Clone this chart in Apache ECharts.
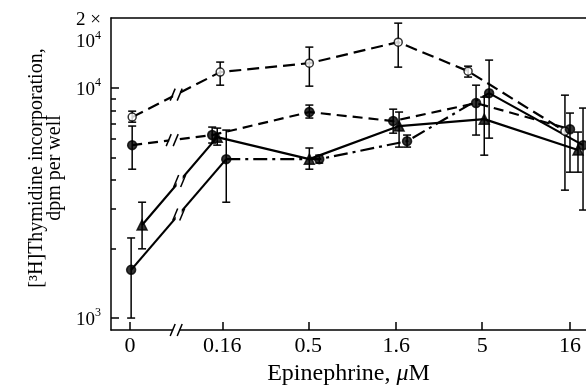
<!DOCTYPE html>
<html>
<head>
<meta charset="utf-8">
<script src="https://cdn.jsdelivr.net/npm/echarts@6/dist/echarts.min.js"></script>
<style>
html, body { margin: 0; padding: 0; background: #fff; }
#chart { width: 586px; height: 387px; }
</style>
</head>
<body>
<div id="chart"></div>
<script>
// epinephrine doses, uM (0 is drawn left of the axis break)
var doses = [0, 0.16, 0.5, 1.6, 5, 16];
var doseLabels = ['0', '0.16', '0.5', '1.6', '5', '16'];

// small horizontal offsets of the points, in decades, as plotted
var offA = [0.012, -0.012, 0.006, 0.012, -0.081, -0.029];
var offB = [0.012, -0.058, 0.006, -0.017, -0.035, 0];
var offC = [0.069, -0.029, 0.006, 0.017, 0.012, 0.046];
var offD = [0.006, 0.023, 0.063, 0.063, 0.040, 0.075];

// dpm per well, mean and error bar ends
var meanA = [7480, 11740, 12840, 15850, 11850, 6500];
var lowA  = [7110, 10300, 10200, 12340, 11170, 3600];
var highA = [7940, 12980, 15080, 19170, 12460, 9320];

var meanB = [5650, 6250, 7870, 7190, 8610, 6630];
var lowB  = [4440, 5770, 7410, 6370, 6250, 4310];
var highB = [6840, 6770, 8440, 8100, 10300, 7790];

var meanC = [2540, 6120, 4910, 6840, 7330, 5380];
var lowC  = [2000, 5650, 4440, 5540, 5110, 4310];
var highC = [3190, 6700, 5490, 7870, 9140, 6440];

var meanD = [1620, 4910, 4910, 5880, 9510, 5650];
var lowD  = [1000, 3190, 4720, 5540, 6060, 2950];
var highD = [2230, 6570, 5110, 6250, 13240, 8190];

var yMajor = [1000, 10000, 20000];
var yMinor = [2000, 3000, 4000, 5000, 6000, 7000, 8000, 9000];

var ZERO_POS = -1.326;
var FONT = 'Liberation Serif';

function doseToX(d) {
	return d === 0 ? ZERO_POS : Math.log10(d);
}

function pts(mean, off) {
	var out = [];
	for (var i = 0; i < mean.length; i++) {
		out.push([doseToX(doses[i]) + off[i], Math.log10(mean[i])]);
	}
	return out;
}

function bars(mean, low, high, off) {
	var out = [];
	for (var i = 0; i < mean.length; i++) {
		out.push([doseToX(doses[i]) + off[i], Math.log10(low[i]), Math.log10(high[i])]);
	}
	return out;
}

var ptsA = pts(meanA, offA), ptsB = pts(meanB, offB), ptsC = pts(meanC, offC), ptsD = pts(meanD, offD);
var allBars = bars(meanA, lowA, highA, offA)
	.concat(bars(meanB, lowB, highB, offB))
	.concat(bars(meanC, lowC, highC, offC))
	.concat(bars(meanD, lowD, highD, offD));

function lineSeries(data, type) {
	return {
		type: 'line', data: data, showSymbol: false, z: 3,
		lineStyle: { color: '#000', width: 2.2, type: type },
		animation: false, silent: true
	};
}

function markSeries(data, symbol, size, fill) {
	return {
		type: 'scatter', data: data, symbol: symbol, symbolSize: size, z: 5,
		itemStyle: { color: fill, borderColor: '#000', borderWidth: 1.5 },
		animation: false, silent: true
	};
}

var chart = echarts.init(document.getElementById('chart'));

var option = {
	backgroundColor: '#fff',
	animation: false,
	grid: { left: 111, right: 0, top: 18, bottom: 57, containLabel: false, outerBoundsMode: 'none' },
	xAxis: [
		{
			type: 'value', min: -1.4358, max: 1.2962, position: 'bottom',
			axisLine: { onZero: false, lineStyle: { color: '#000', width: 1.5 } },
			axisTick: { inside: true, length: 8, lineStyle: { color: '#000', width: 1.5 },
				customValues: doses.map(doseToX) },
			axisLabel: {
				customValues: doses.map(doseToX), margin: 5,
				color: '#000', fontFamily: FONT, fontSize: 22,
				formatter: function (v) {
					for (var i = 0; i < doses.length; i++) {
						if (Math.abs(doseToX(doses[i]) - v) < 1e-6) return doseLabels[i];
					}
					return '';
				}
			},
			splitLine: { show: false },
			name: '{r|Epinephrine, }{i|\u03bc}{r|M}',
			nameLocation: 'middle', nameGap: 30,
			nameTextStyle: {
				rich: {
					r: { fontFamily: FONT, fontSize: 24, color: '#000' },
					i: { fontFamily: FONT, fontSize: 24, color: '#000', fontStyle: 'italic' }
				}
			}
		},
		{
			type: 'value', position: 'top', min: -1.4358, max: 1.2962,
			axisLine: { onZero: false, lineStyle: { color: '#000', width: 1.5 } },
			axisTick: { show: false }, axisLabel: { show: false }, splitLine: { show: false }
		}
	],
	yAxis: [
		{
			type: 'value', min: 2.948, max: 4.305, position: 'left',
			axisLine: { onZero: false, lineStyle: { color: '#000', width: 1.5 } },
			axisTick: { inside: true, length: 8, lineStyle: { color: '#000', width: 1.5 },
				customValues: [3, 4] },
			axisLabel: {
				customValues: yMajor.map(Math.log10), margin: 10,
				formatter: function (v) {
					if (Math.abs(v - 3) < 1e-6) return '{b|10}{s|3}';
					if (Math.abs(v - 4) < 1e-6) return '{b|10}{s|4}';
					return '{g| }\n{b|2 \u00d7}\n{b|10}{s|4}';
				},
				rich: {
					b: { fontFamily: FONT, fontSize: 19, color: '#000', lineHeight: 22, verticalAlign: 'bottom' },
					s: { fontFamily: FONT, fontSize: 12, color: '#000', lineHeight: 22, verticalAlign: 'top' },
					g: { fontSize: 8, lineHeight: 22 }
				}
			},
			splitLine: { show: false },
			name: '[\u00b3H]Thymidine incorporation,\ndpm per well',
			nameLocation: 'middle', nameRotate: 90, nameGap: 36,
			nameTextStyle: { fontFamily: FONT, fontSize: 20, color: '#000', lineHeight: 18, padding: [0, 0, 0, 12] }
		},
		{
			type: 'value', min: 2.948, max: 4.305, position: 'left',
			axisLine: { show: false, onZero: false },
			axisTick: { inside: true, length: 5, lineStyle: { color: '#000', width: 1.5 },
				customValues: yMinor.map(Math.log10) },
			axisLabel: { show: false }, splitLine: { show: false }
		}
	],
	series: [
		lineSeries(ptsA, [12, 6]),
		lineSeries(ptsB, [10, 6]),
		lineSeries(ptsC, 'solid'),
		lineSeries(ptsD.slice(0, 2), 'solid'),
		lineSeries(ptsD.slice(1, 5), [14, 5, 3, 5]),
		lineSeries(ptsD.slice(4, 6), 'solid'),
		{
			type: 'custom', data: allBars, z: 4, animation: false, silent: true,
			renderItem: function (params, api) {
				var x = api.value(0);
				var p1 = api.coord([x, api.value(1)]);
				var p2 = api.coord([x, api.value(2)]);
				var st = { stroke: '#000', lineWidth: 1.5 };
				return {
					type: 'group',
					children: [
						{ type: 'line', shape: { x1: p1[0], y1: p1[1], x2: p2[0], y2: p2[1] }, style: st },
						{ type: 'line', shape: { x1: p1[0] - 4, y1: p1[1], x2: p1[0] + 4, y2: p1[1] }, style: st },
						{ type: 'line', shape: { x1: p2[0] - 4, y1: p2[1], x2: p2[0] + 4, y2: p2[1] }, style: st }
					]
				};
			}
		},
		markSeries(ptsA, 'circle', 8, '#fff'),
		markSeries(ptsB, 'circle', 9, '#000'),
		markSeries(ptsC, 'triangle', 10, '#000'),
		markSeries(ptsD, 'circle', 9, '#000')
	]
};

chart.setOption(option);

// axis break "//" marks on the lines between 0 and 0.16 and on the x axis
function breakMark(cx, cy) {
	var st = { stroke: '#000', lineWidth: 1.5 };
	return [
		{ type: 'rect', shape: { x: cx - 3, y: cy - 5, width: 6, height: 10 }, style: { fill: '#fff' }, z: 10 },
		{ type: 'line', shape: { x1: cx - 6, y1: cy + 6, x2: cx - 1, y2: cy - 6 }, style: st, z: 11 },
		{ type: 'line', shape: { x1: cx + 1, y1: cy + 6, x2: cx + 6, y2: cy - 6 }, style: st, z: 11 }
	];
}

var marks = [];
[ptsA, ptsB, ptsC, ptsD].forEach(function (p) {
	var a = chart.convertToPixel({ gridIndex: 0 }, p[0]);
	var b = chart.convertToPixel({ gridIndex: 0 }, p[1]);
	marks = marks.concat(breakMark((a[0] + b[0]) / 2, (a[1] + b[1]) / 2));
});
var axisBrk = chart.convertToPixel({ gridIndex: 0 }, [(ZERO_POS + Math.log10(0.16)) / 2, 2.948]);
marks = marks.concat(breakMark(axisBrk[0], axisBrk[1]));

chart.setOption({ graphic: marks });
</script>
</body>
</html>
